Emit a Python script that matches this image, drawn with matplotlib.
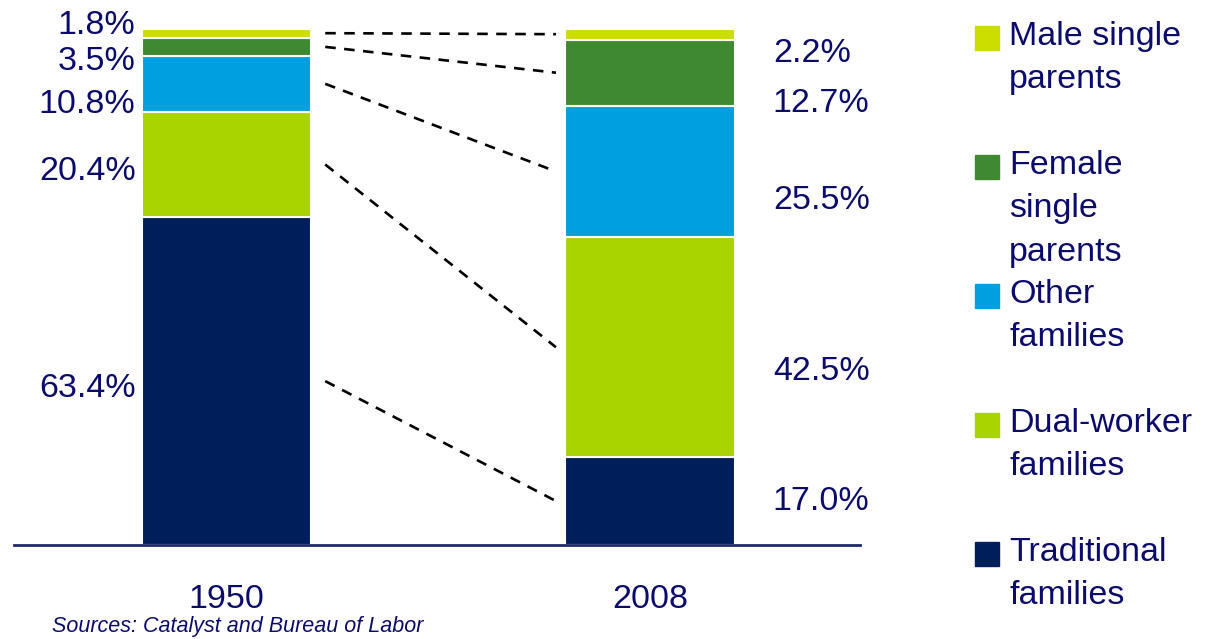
import matplotlib.pyplot as plt
from matplotlib.patches import Rectangle
import numpy as np

plt.rcParams["font.family"] = ["Liberation Sans", "DejaVu Sans"]

years = ["1950", "2008"]
categories = ["Traditional\nfamilies", "Dual-worker\nfamilies", "Other\nfamilies",
              "Female\nsingle\nparents", "Male single\nparents"]
share1950 = [63.4, 20.4, 10.8, 3.5, 1.8]
share2008 = [17.0, 42.5, 25.5, 12.7, 2.2]
colors = ["#001E5A", "#A8D400", "#00A0DF", "#3F8A30", "#CCDD00"]

# hand-placed label nudges (data units) so the small segments stay readable
nudge1950 = [-1.4, -1.4, -4.0, -2.8, 1.5]
nudge2008 = [0.0, -4.6, -5.6, -6.0, -3.7]

textColor = "#0B0B6B"
fs = 24.5

fig = plt.figure(figsize=(12.14, 6.39), dpi=100)
ax = fig.add_axes([14 / 1214, 1 - 545 / 639, 846 / 1214, 517 / 639])

data = np.array([share1950, share2008]).T
x = np.arange(len(years))
width = 0.40
bottoms = np.zeros(len(years))
mids = []
for vals, col in zip(data, colors):
    ax.bar(x, vals, width, bottom=bottoms, color=col, edgecolor="white", linewidth=1.5)
    mids.append(bottoms + vals / 2)
    bottoms = bottoms + vals
mids = np.array(mids)

# dashed connectors between segment centres
for m in mids:
    ax.plot([x[0] + width / 2 + 0.033, x[1] - width / 2 - 0.022], [m[0], m[1]],
            color="black", linestyle=(0, (4, 3.2)), linewidth=1.9)

for i in range(len(categories)):
    ax.text(x[0] - width / 2 - 0.015, mids[i, 0] + nudge1950[i], f"{share1950[i]:.1f}%",
            ha="right", va="center", fontsize=fs, color=textColor)
    ax.text(x[1] + width / 2 + 0.09, mids[i, 1] + nudge2008[i], f"{share2008[i]:.1f}%",
            ha="left", va="center", fontsize=fs, color=textColor)

ax.set_xlim(-0.502, 1.496)
ax.set_ylim(0, 100)
ax.set_xticks(x)
ax.set_xticklabels(years, fontsize=fs, color=textColor)
ax.tick_params(axis="x", length=0, pad=28)
ax.set_yticks([])
for s in ["top", "right", "left"]:
    ax.spines[s].set_visible(False)
ax.spines["bottom"].set_color("#1F2A6B")
ax.spines["bottom"].set_linewidth(2)

# legend drawn by hand, top entry first
for k, i in enumerate(range(len(categories) - 1, -1, -1)):
    top = 26 + 129 * k
    fig.patches.append(Rectangle((975 / 1214, 1 - (top + 24) / 639), 24 / 1214, 24 / 639,
                                 transform=fig.transFigure, color=colors[i]))
    fig.text(1009 / 1214, 1 - (top - 5) / 639, categories[i], ha="left", va="top",
             fontsize=fs, color=textColor, linespacing=1.52)

fig.text(52 / 1214, 1 - 616 / 639, "Sources: Catalyst and Bureau of Labor",
         fontsize=15.5, style="italic", color=textColor, ha="left", va="top")

fig.savefig("out.png", dpi=100)
